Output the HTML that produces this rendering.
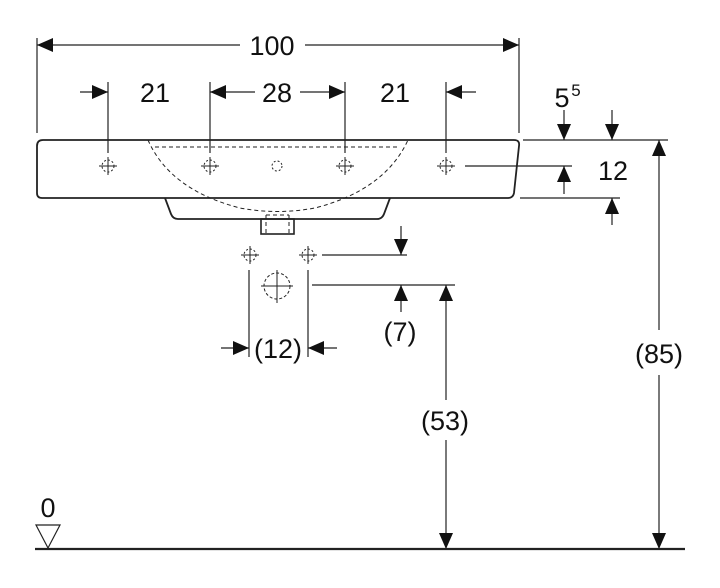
<!DOCTYPE html>
<html><head><meta charset="utf-8"><style>
body{margin:0;background:#fff}
svg{display:block}
text{font-family:"Liberation Sans",sans-serif;fill:#111}
</style></head><body>
<svg width="720" height="588" viewBox="0 0 720 588" xmlns="http://www.w3.org/2000/svg">
<defs>
<marker id="a" viewBox="0 0 16 14" refX="16" refY="7" markerWidth="16" markerHeight="14" markerUnits="userSpaceOnUse" orient="auto">
<path d="M0,0 L16,7 L0,14 Z" fill="#111"/></marker>
<g id="h" stroke="#222" stroke-width="1" fill="none">
<circle r="6" stroke-dasharray="2,2"/><line x1="-9" y1="0" x2="9" y2="0"/><line x1="0" y1="-9" x2="0" y2="9"/></g>
</defs>
<g stroke="#222" stroke-width="1.2" fill="none">
<line x1="37" y1="38" x2="37" y2="133"/><line x1="519" y1="38" x2="519" y2="133"/>
<line x1="108" y1="82" x2="108" y2="153"/><line x1="210" y1="82" x2="210" y2="153"/>
<line x1="345" y1="82" x2="345" y2="153"/><line x1="446" y1="82" x2="446" y2="153"/>
<line x1="240" y1="45" x2="37" y2="45" marker-end="url(#a)"/>
<line x1="305" y1="45" x2="519" y2="45" marker-end="url(#a)"/>
<line x1="80" y1="92" x2="108" y2="92" marker-end="url(#a)"/>
<line x1="255" y1="92" x2="210" y2="92" marker-end="url(#a)"/>
<line x1="300" y1="92" x2="345" y2="92" marker-end="url(#a)"/>
<line x1="476" y1="92" x2="446" y2="92" marker-end="url(#a)"/>
<path d="M43,140 L514,140 Q520,140 519,146 L514,193 Q513,198 508,198 L42,198 Q37,198 37,193 L37,146 Q37,140 43,140 Z" stroke-width="1.8"/>
<path d="M165,198 L171,214 Q173,219 178,219 L377,219 Q382,219 384,214 L390,198" stroke-width="1.8"/>
<rect x="261" y="219" width="33" height="15" stroke-width="1.6"/>
<g stroke-dasharray="4,3" stroke-width="1">
<line x1="155" y1="147" x2="400" y2="147"/>
<path d="M148,140 Q170,190 240,208 Q277,215 315,208 Q385,190 408,140"/>
<line x1="266" y1="215" x2="266" y2="234"/><line x1="289" y1="215" x2="289" y2="234"/>
<line x1="266" y1="215" x2="289" y2="215"/>
</g>
<line x1="523" y1="140" x2="668" y2="140"/>
<line x1="465" y1="166" x2="572" y2="166"/>
<line x1="520" y1="198" x2="620" y2="198"/>
<line x1="564" y1="110" x2="564" y2="140" marker-end="url(#a)"/>
<line x1="612" y1="110" x2="612" y2="140" marker-end="url(#a)"/>
<line x1="564" y1="194" x2="564" y2="166" marker-end="url(#a)"/>
<line x1="612" y1="225" x2="612" y2="198" marker-end="url(#a)"/>
<line x1="659" y1="330" x2="659" y2="140" marker-end="url(#a)"/>
<line x1="659" y1="375" x2="659" y2="549" marker-end="url(#a)"/>
<line x1="322" y1="255" x2="407" y2="255"/>
<line x1="401" y1="226" x2="401" y2="255" marker-end="url(#a)"/>
<line x1="312" y1="285" x2="455" y2="285"/>
<line x1="401" y1="312" x2="401" y2="285" marker-end="url(#a)"/>
<line x1="446" y1="400" x2="446" y2="285" marker-end="url(#a)"/>
<line x1="446" y1="440" x2="446" y2="549" marker-end="url(#a)"/>
<line x1="249" y1="270" x2="249" y2="357"/><line x1="308" y1="270" x2="308" y2="357"/>
<line x1="221" y1="348" x2="249" y2="348" marker-end="url(#a)"/>
<line x1="337" y1="348" x2="308" y2="348" marker-end="url(#a)"/>
<circle cx="277" cy="286" r="13" stroke-dasharray="3,2" stroke-width="1"/>
<line x1="261" y1="286" x2="293" y2="286" stroke-width="1"/><line x1="277" y1="270" x2="277" y2="303" stroke-width="1"/>
<circle cx="277" cy="166" r="5" stroke-dasharray="2,2" stroke-width="1"/>
<line x1="35" y1="549" x2="685" y2="549" stroke-width="2.2"/>
<path d="M36,525 L60,525 L48,548 Z" stroke-width="1.2"/>
</g>
<use href="#h" x="108" y="166"/><use href="#h" x="210" y="166"/><use href="#h" x="345" y="166"/><use href="#h" x="446" y="166"/>
<use href="#h" x="250" y="255"/><use href="#h" x="308" y="255"/>
<g font-size="27" text-anchor="middle">
<text x="272" y="55">100</text>
<text x="155" y="102">21</text><text x="277" y="102">28</text><text x="395" y="102">21</text>
<text x="562" y="107">5</text><text x="576" y="96" font-size="17">5</text>
<text x="613" y="180">12</text>
<text x="659" y="363">(85)</text>
<text x="445" y="430">(53)</text>
<text x="400" y="341">(7)</text>
<text x="278" y="358">(12)</text>
<text x="48" y="517">0</text>
</g>
</svg>
</body></html>
